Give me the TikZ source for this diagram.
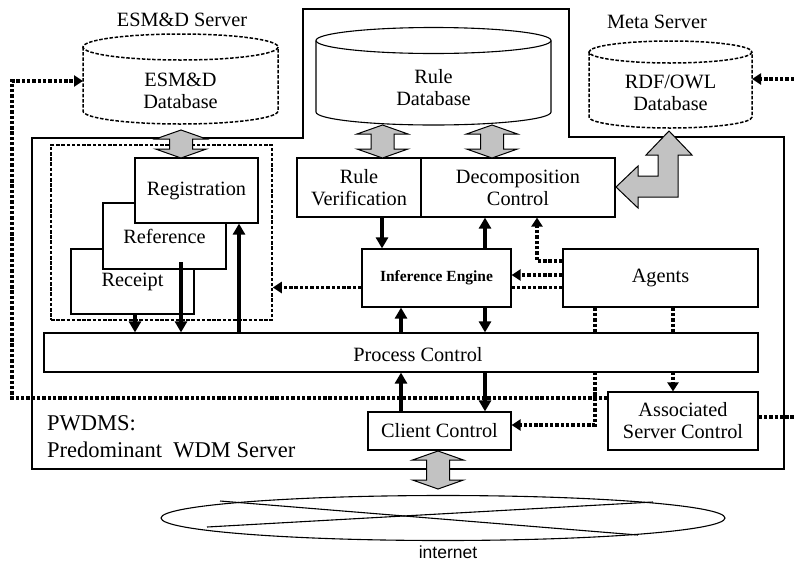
\documentclass[tikz,border=0pt]{standalone}
\usepackage{fontspec}
\setmainfont{Liberation Serif}
\newfontfamily\labelsans{Liberation Sans}
\usetikzlibrary{arrows.meta,shapes.geometric}
\pgfdeclarelayer{wires}
\pgfsetlayers{wires,main}

% database cylinder: style, centre x, half width, top y, bottom y, ellipse radius
\newcommand\dbcylinder[6]{%
  \fill[white] (#2-#3,#4) -- (#2-#3,#5) arc[start angle=180,end angle=0,x radius=#3,y radius=#6] -- (#2+#3,#4) arc[start angle=0,end angle=-180,x radius=#3,y radius=#6] -- cycle;
  \draw[#1] (#2,#4) ellipse[x radius=#3,y radius=#6];
  \draw[#1] (#2-#3,#4) -- (#2-#3,#5) arc[start angle=180,end angle=0,x radius=#3,y radius=#6] -- (#2+#3,#4);
}
% grey hollow two-headed arrow: centre x, top y, bottom y
\newcommand\hollowvarrow[3]{%
  \draw[greyarrow] (#1,#2) -- (#1+25.5,#2+9) -- (#1+11.5,#2+9) -- (#1+11.5,#3-9) -- (#1+25.5,#3-9)
    -- (#1,#3) -- (#1-25.5,#3-9) -- (#1-11.5,#3-9) -- (#1-11.5,#2+9) -- (#1-25.5,#2+9) -- cycle;
}

\begin{document}
\begin{tikzpicture}[x=1pt,y=-1pt,
  every node/.style={font=\fontsize{20.3}{22}\selectfont, inner sep=0pt},
  box/.style={draw, line width=1.2pt, fill=white, align=center},
  dbdash/.style={line width=1.5pt, dash pattern=on 3.5pt off 1.7pt},
  dotline/.style={line width=3.9pt, dash pattern=on 3.4pt off 1.9pt},
  dotarrow/.style={dotline, -{Triangle[length=9pt,width=11pt]}},
  thickarrow/.style={line width=3.6pt, -{Triangle[length=11pt,width=12pt]}},
  greyarrow/.style={draw, line width=1pt, fill=black!24, line join=miter}]
\useasboundingbox (0,0) rectangle (794,563);

% outline of the predominant server
\draw[line width=1.4pt] (32,138) -- (303,138) -- (303,9) -- (569,9) -- (569,137)
  -- (784,137) -- (784,469) -- (32,469) -- cycle;

% server titles
\node (esmsrv) at (182,20) {ESM\&D Server};
\node (metasrv) at (657,22) {Meta Server};

% databases
\dbcylinder{dbdash}{180.5}{97.5}{47}{111}{13}
\node[align=center] (esmdb) at (180.5,91) {ESM\&D\\Database};
\dbcylinder{line width=1.1pt}{433.5}{117.5}{40.5}{112}{13}
\node[align=center] (ruledb) at (433.5,88) {Rule\\Database};
\dbcylinder{dbdash}{670.5}{81.5}{52}{117}{11}
\node[align=center] (rdfdb) at (670.5,93) {RDF/OWL\\Database};

% registration group
\node[draw, dbdash, minimum width=221, minimum height=175] (grp) at (161.5,232.5) {};
\node[box, minimum width=123, minimum height=65] (rc) at (132.5,281.5) {Receipt};
\node[box, minimum width=123, minimum height=66] (ref) at (164.5,236) {Reference};
\node[box, minimum width=123, minimum height=65] (reg) at (196.5,190.5) {Registration};

% functional blocks
\node[box, minimum width=124, minimum height=59] (rv) at (359,187.5) {Rule\\Verification};
\node[box, minimum width=194, minimum height=59] (dc) at (518,187.5) {Decomposition\\Control};
\node[box, minimum width=149, minimum height=58, font=\bfseries\fontsize{15.5}{18}\selectfont] (ie) at (436.5,278) {Inference Engine};
\node[box, minimum width=195, minimum height=58] (ag) at (660.5,278) {Agents};
\node[box, minimum width=714, minimum height=39] (pc) at (401,352.5) {};
\node (pctext) at (418,355) {Process Control};
\node[box, minimum width=143, minimum height=38] (cc) at (439.5,431) {Client Control};
\node[box, minimum width=150, minimum height=58] (asc) at (683,421) {Associated\\Server Control};

% server caption
\node[anchor=base west, font=\fontsize{22.5}{27}\selectfont] (pw1) at (47,430) {PWDMS:};
\node[anchor=base west, font=\fontsize{22.5}{27}\selectfont] (pw2) at (47,457) {Predominant\ \ WDM Server};

% internet
\node[draw, ellipse, line width=1.1pt, minimum width=564, minimum height=45] (net) at (443,518) {};
\draw[line width=1.1pt] (220,501) -- (638,535);
\draw[line width=1.1pt] (207,527) -- (653,502);
\node[font=\labelsans\fontsize{17.5}{20}\selectfont] (nettext) at (448,552) {internet};

% helper positions for connector columns and rows
\coordinate (c135) at (135,0);
\coordinate (c181) at (181,0);
\coordinate (c239) at (239,0);
\coordinate (c382) at (382,0);
\coordinate (c401) at (401,0);
\coordinate (c485) at (485,0);
\coordinate (refout) at (181,262);
\coordinate (k1) at (12,398);
\coordinate (k2) at (12,81);
\coordinate (esmL) at (83,81);
\coordinate (p595) at (595,425);
\coordinate (q673) at (673,0);
\coordinate (r537) at (537,261);
\coordinate (s275) at (0,275);
\coordinate (s287) at (0,287.5);
\coordinate (t417) at (794,417);
\coordinate (u79) at (794,79);
\coordinate (rdfR) at (752,79);

\begin{pgfonlayer}{wires}
  % dotted control flows
  \draw[dotarrow] (asc.west |- k1) -- (k1) -- (k2) -- (esmL);
  \draw[dotarrow] (ag.south -| p595) -- (p595) -- (cc.east |- p595);
  \draw[dotarrow] (ag.south -| q673) -- (asc.north -| q673);
  \draw[dotarrow] (ag.west |- r537) -- (r537) -- (dc.south -| r537);
  \draw[dotarrow] (ag.west |- s275) -- (ie.east |- s275);
  \draw[dotline] (ie.east |- s287) -- (ag.west |- s287);
  \draw[dotarrow] (ie.west |- s287) -- (grp.east |- s287);
  \draw[dotline] (asc.east |- t417) -- (t417);
  \draw[dotarrow] (u79) -- (rdfR);
\end{pgfonlayer}

% solid data flows
\draw[thickarrow] (rc.south -| c135) -- (pc.north -| c135);
\draw[thickarrow] (refout) -- (pc.north -| c181);
\draw[thickarrow] (pc.north -| c239) -- (reg.south -| c239);
\draw[thickarrow] (rv.south -| c382) -- (ie.north -| c382);
\draw[thickarrow] (ie.north -| c485) -- (dc.south -| c485);
\draw[thickarrow] (pc.north -| c401) -- (ie.south -| c401);
\draw[thickarrow] (ie.south -| c485) -- (pc.north -| c485);
\draw[thickarrow] (cc.north -| c401) -- (pc.south -| c401);
\draw[thickarrow] (pc.south -| c485) -- (cc.north -| c485);

% grey two-headed access arrows
\hollowvarrow{181}{130}{158}
\hollowvarrow{382.5}{125}{158}
\hollowvarrow{492}{125}{158}
\hollowvarrow{438}{451}{489}
\draw[greyarrow] (669,131) -- (692,155) -- (678,155) -- (678,197) -- (638,197) -- (638,208)
  -- (616,187) -- (638,166) -- (638,176) -- (658,176) -- (658,155) -- (646,155) -- cycle;
\end{tikzpicture}
\end{document}
